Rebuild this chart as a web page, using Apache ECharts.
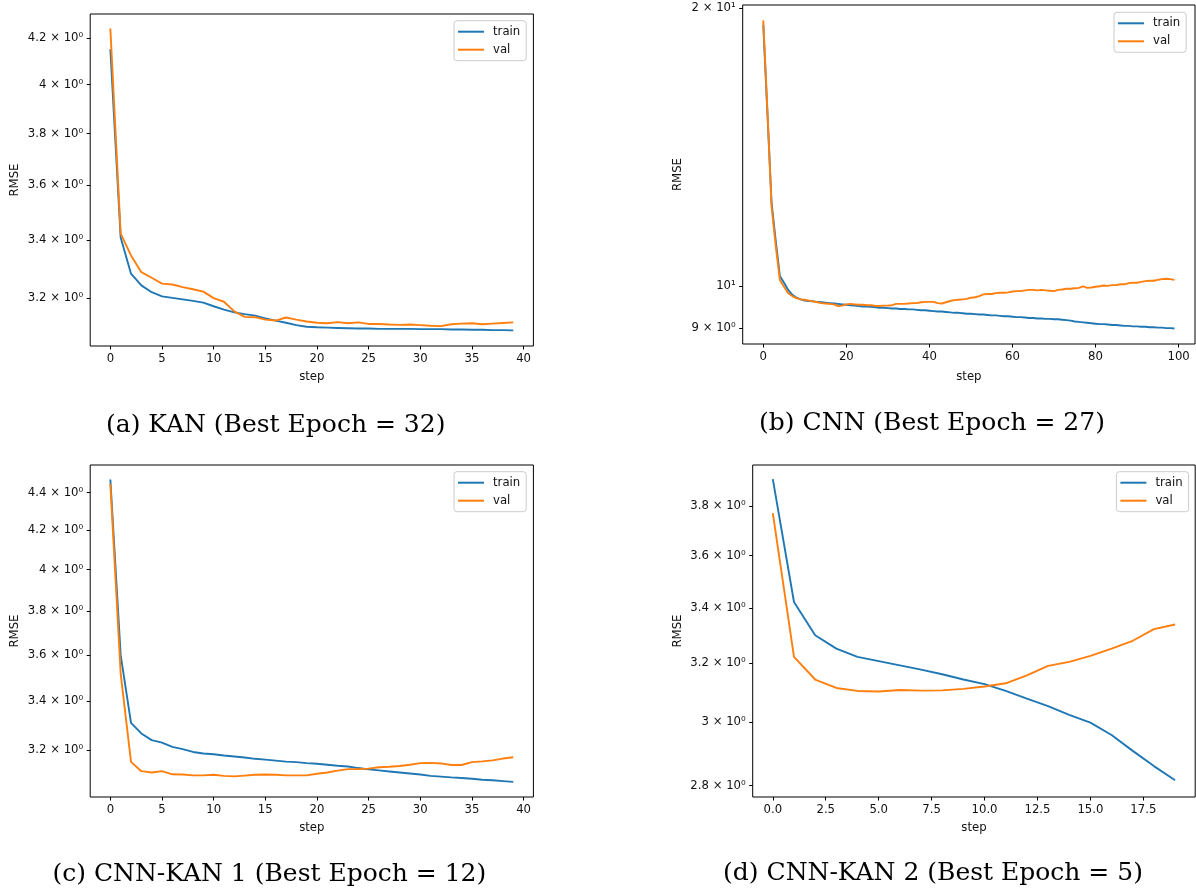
<!DOCTYPE html>
<html><head><meta charset="utf-8">
<script src="https://cdn.jsdelivr.net/npm/echarts@6/dist/echarts.min.js"></script>
<style>html,body{margin:0;padding:0;background:#fff}#c{width:1196px;height:889px}</style>
</head><body><div id="c"></div>
<script>
// ---- data ----
const kanTrain = [4.150, 3.409, 3.283, 3.243, 3.220, 3.206, 3.201, 3.196, 3.191, 3.185, 3.173, 3.162, 3.153, 3.147, 3.142, 3.133, 3.126, 3.119, 3.111, 3.106, 3.104, 3.103, 3.102, 3.101, 3.100, 3.100, 3.099, 3.099, 3.099, 3.099, 3.098, 3.098, 3.098, 3.097, 3.097, 3.096, 3.096, 3.095, 3.095, 3.094];
const kanVal = [4.241, 3.423, 3.346, 3.288, 3.269, 3.249, 3.246, 3.237, 3.230, 3.222, 3.200, 3.188, 3.156, 3.138, 3.137, 3.129, 3.126, 3.136, 3.129, 3.123, 3.119, 3.117, 3.121, 3.117, 3.120, 3.115, 3.115, 3.113, 3.112, 3.113, 3.111, 3.109, 3.108, 3.114, 3.116, 3.117, 3.114, 3.116, 3.118, 3.120];
const cnnTrain = [19.19, 15.4, 12.3, 11.2, 10.25, 10.08, 9.90, 9.78, 9.71, 9.67, 9.64, 9.63, 9.62, 9.61, 9.60, 9.59, 9.58, 9.57, 9.56, 9.55, 9.54, 9.53, 9.52, 9.51, 9.50, 9.50, 9.49, 9.48, 9.47, 9.47, 9.46, 9.45, 9.45, 9.44, 9.44, 9.43, 9.43, 9.42, 9.41, 9.41, 9.40, 9.39, 9.38, 9.38, 9.37, 9.36, 9.35, 9.35, 9.34, 9.33, 9.33, 9.32, 9.31, 9.31, 9.30, 9.29, 9.29, 9.28, 9.27, 9.27, 9.26, 9.25, 9.25, 9.24, 9.23, 9.23, 9.22, 9.22, 9.21, 9.21, 9.20, 9.20, 9.19, 9.18, 9.17, 9.15, 9.14, 9.13, 9.12, 9.11, 9.10, 9.09, 9.09, 9.08, 9.07, 9.07, 9.06, 9.05, 9.05, 9.04, 9.04, 9.03, 9.03, 9.02, 9.02, 9.01, 9.01, 9.00, 9.00, 8.99];
const cnnVal = [19.40, 15.5, 12.2, 11.05, 10.15, 9.98, 9.82, 9.75, 9.70, 9.67, 9.66, 9.64, 9.62, 9.60, 9.58, 9.57, 9.56, 9.55, 9.51, 9.52, 9.55, 9.56, 9.55, 9.54, 9.54, 9.53, 9.53, 9.51, 9.51, 9.52, 9.52, 9.53, 9.56, 9.56, 9.56, 9.57, 9.58, 9.58, 9.60, 9.61, 9.61, 9.61, 9.58, 9.57, 9.60, 9.63, 9.65, 9.66, 9.67, 9.68, 9.71, 9.72, 9.75, 9.79, 9.80, 9.80, 9.82, 9.83, 9.83, 9.84, 9.86, 9.87, 9.87, 9.89, 9.90, 9.90, 9.89, 9.90, 9.89, 9.88, 9.87, 9.90, 9.91, 9.93, 9.93, 9.94, 9.95, 9.99, 9.95, 9.96, 9.98, 9.99, 10.01, 10.00, 10.02, 10.02, 10.04, 10.04, 10.07, 10.08, 10.08, 10.10, 10.12, 10.13, 10.13, 10.15, 10.17, 10.18, 10.17, 10.15];
const ck1Train = [4.472, 3.599, 3.310, 3.267, 3.240, 3.230, 3.213, 3.204, 3.193, 3.187, 3.184, 3.179, 3.175, 3.171, 3.166, 3.163, 3.159, 3.155, 3.153, 3.149, 3.147, 3.143, 3.139, 3.136, 3.130, 3.125, 3.121, 3.117, 3.113, 3.109, 3.105, 3.100, 3.097, 3.094, 3.092, 3.089, 3.085, 3.083, 3.080, 3.077];
const ck1Val = [4.449, 3.518, 3.154, 3.118, 3.113, 3.118, 3.106, 3.105, 3.102, 3.102, 3.104, 3.100, 3.098, 3.101, 3.104, 3.105, 3.104, 3.102, 3.102, 3.102, 3.108, 3.113, 3.120, 3.126, 3.126, 3.128, 3.133, 3.135, 3.138, 3.143, 3.149, 3.150, 3.148, 3.142, 3.142, 3.153, 3.156, 3.160, 3.167, 3.172];
const ck2Train = [3.914, 3.422, 3.300, 3.252, 3.223, 3.208, 3.193, 3.178, 3.162, 3.144, 3.128, 3.105, 3.079, 3.054, 3.025, 2.999, 2.959, 2.908, 2.860, 2.816];
const ck2Val = [3.771, 3.223, 3.144, 3.115, 3.105, 3.103, 3.108, 3.106, 3.107, 3.112, 3.120, 3.131, 3.158, 3.191, 3.205, 3.226, 3.252, 3.280, 3.322, 3.339];

const xTicks40 = [0, 5, 10, 15, 20, 25, 30, 35, 40];
const xTicks100 = [0, 20, 40, 60, 80, 100];
const xTicks20 = [0, 2.5, 5, 7.5, 10, 12.5, 15, 17.5];
const yTicksA = [3.2, 3.4, 3.6, 3.8, 4.0, 4.2];
const yTicksB = [9, 10, 20];
const yTicksC = [3.2, 3.4, 3.6, 3.8, 4.0, 4.2, 4.4];
const yTicksD = [2.8, 3.0, 3.2, 3.4, 3.6, 3.8];
const seriesNames = ['train', 'val'];
const captions = ['(a) KAN (Best Epoch = 32)', '(b) CNN (Best Epoch = 27)', '(c) CNN-KAN 1 (Best Epoch = 12)', '(d) CNN-KAN 2 (Best Epoch = 5)'];

// ---- layout ----
const SUP = {'0':'\u2070','1':'\u00B9','2':'\u00B2','3':'\u00B3','-':'\u207B'};
function logLabel(v) {
  const e = Math.floor(Math.log10(v) + 1e-9);
  const m = Math.round(v / Math.pow(10, e) * 100) / 100;
  const sup = String(e).split('').map(c => SUP[c]).join('');
  return m === 1 ? '10' + sup : m + ' \u00D7 10' + sup;
}
const fmtInt = v => String(Math.round(v));
const fmt1 = v => v.toFixed(1);

const panels = [
  {train: kanTrain, val: kanVal, grid: {left: 90.2, top: 14, width: 443.2, height: 332}, xr: [-1.95, 40.95], yr: [3.044, 4.306], xt: xTicks40, yt: yTicksA, xf: fmtInt, lg: [454, 20.7], gy: 69, gx: 25},
  {train: cnnTrain, val: cnnVal, grid: {left: 742.7, top: 5, width: 452.3, height: 339}, xr: [-4.95, 103.95], yr: [8.65, 20.16], xt: xTicks100, yt: yTicksB, xf: fmtInt, lg: [1114, 12.3], gy: 59, gx: 27},
  {train: ck1Train, val: ck1Val, grid: {left: 90.2, top: 465, width: 443.2, height: 332}, xr: [-1.95, 40.95], yr: [3.02, 4.553], xt: xTicks40, yt: yTicksC, xf: fmtInt, lg: [454, 471.7], gy: 69, gx: 24.8},
  {train: ck2Train, val: ck2Val, grid: {left: 752.7, top: 465, width: 442.5, height: 332}, xr: [-0.95, 19.95], yr: [2.765, 3.975], xt: xTicks20, yt: yTicksD, xf: fmt1, lg: [1116.4, 471.7], gy: 69, gx: 24.8}
];
const capPos = [[275.7, 425], [932, 423], [269.4, 874], [933, 873]];
const FONT = '"DejaVu Sans", sans-serif';
const FS = 11.7;
const TXT = '#111';
const colors = ['#1f77b4', '#ff7f0e'];

const option = {
  animation: false,
  backgroundColor: '#fff',
  grid: panels.map(p => Object.assign({}, p.grid, {show: true, borderColor: '#000', borderWidth: 1, backgroundColor: 'rgba(0,0,0,0)', containLabel: false, outerBoundsMode: 'none'})),
  xAxis: panels.map((p, i) => ({
    type: 'value', gridIndex: i, min: p.xr[0], max: p.xr[1], position: 'bottom',
    name: 'step', nameLocation: 'middle', nameGap: p.gx,
    nameTextStyle: {fontFamily: FONT, fontSize: FS, color: TXT},
    axisLine: {show: false, onZero: false},
    axisTick: {show: true, inside: false, customValues: p.xt, length: 3.5, lineStyle: {color: '#000', width: 1}},
    axisLabel: {customValues: p.xt, formatter: p.xf, margin: 7, fontFamily: FONT, fontSize: FS, color: TXT},
    splitLine: {show: false}
  })),
  yAxis: panels.map((p, i) => ({
    type: 'log', logBase: 10, gridIndex: i, min: p.yr[0], max: p.yr[1], position: 'left',
    name: 'RMSE', nameLocation: 'middle', nameGap: p.gy, nameRotate: 90,
    nameTextStyle: {fontFamily: FONT, fontSize: FS, color: TXT},
    axisLine: {show: false, onZero: false},
    axisTick: {show: true, inside: false, customValues: p.yt, length: 3.5, lineStyle: {color: '#000', width: 1}},
    axisLabel: {customValues: p.yt, formatter: v => logLabel(v), margin: 7, fontFamily: FONT, fontSize: FS, color: TXT},
    splitLine: {show: false}
  })),
  legend: panels.map(p => ({
    data: seriesNames, orient: 'vertical', left: p.lg[0], top: p.lg[1],
    icon: 'rect', itemWidth: 26, itemHeight: 2, itemGap: 6,
    padding: [5, 6, 5, 4],
    backgroundColor: 'rgba(255,255,255,0.8)', borderColor: '#cccccc', borderWidth: 1, borderRadius: 3,
    textStyle: {fontFamily: FONT, fontSize: FS, color: TXT, padding: [0, 0, 0, 4]},
    selectedMode: false
  })),
  series: panels.flatMap((p, i) => [p.train, p.val].map((arr, k) => ({
    type: 'line', name: seriesNames[k], xAxisIndex: i, yAxisIndex: i,
    data: arr.map((v, j) => [j, v]),
    showSymbol: false, symbol: 'none',
    lineStyle: {width: 1.9, color: colors[k]}, itemStyle: {color: colors[k]},
    z: 2 + k
  }))),
  graphic: captions.map((t, i) => ({
    type: 'text', x: capPos[i][0], y: capPos[i][1],
    style: {text: t, font: '25px "DejaVu Serif", serif', fill: '#000', textAlign: 'center', textVerticalAlign: 'middle'}
  }))
};
const chart = echarts.init(document.getElementById('c'));
chart.setOption(option);
</script>
</body></html>
